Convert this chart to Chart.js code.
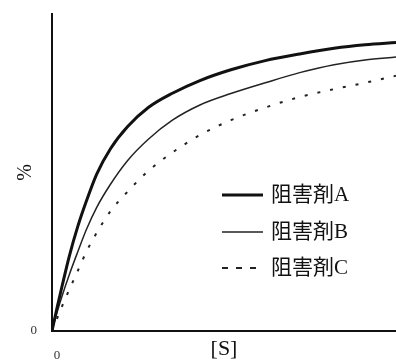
<!DOCTYPE html>
<html>
<head>
<meta charset="utf-8">
<script src="https://cdn.jsdelivr.net/npm/chart.js@4"></script>
<style>
  html, body { margin: 0; padding: 0; background: #fff; overflow: hidden; }
  #box { width: 396px; height: 362px; position: relative; }
  #graficaInhibicion { display: block; }
</style>
</head>
<body>
<div id="box"><canvas id="graficaInhibicion"></canvas></div>
<script>
// [S] sample points (0..100 across the axis)
const sValues = [0, 1.5, 3, 5, 7.5, 10, 13, 17, 22, 28, 35, 43, 52, 62, 72, 82, 91, 100];

// % for each inhibitor
const valoresA = [0, 7.5, 14.5, 23.5, 33, 41, 49.5, 57.5, 64.5, 70.5, 75, 79, 82.4, 85.3, 87.4, 89.2, 90.3, 91];
const valoresB = [0, 6, 11.3, 17.7, 25, 32, 39, 46.3, 53.8, 60.5, 66.5, 71.3, 74.9, 78.3, 81.5, 84, 85.5, 86.4];
const valoresC = [0, 4, 8, 13, 19, 25, 31, 37.8, 44, 50.5, 56.3, 61.8, 66.5, 70.5, 73.8, 76.3, 78.3, 80.5];

const etiquetas = ['阻害剤A', '阻害剤B', '阻害剤C'];
const tituloX = '[S]';
const tituloY = '%';

const serifFont = "'Liberation Serif', 'Noto Sans CJK JP', serif";

function puntos(valores) {
    return sValues.map(function (s, i) { return { x: s, y: valores[i] }; });
}

// legend drawn by hand so it can sit inside the plot on the right
const leyendaManual = {
    id: 'leyendaManual',
    afterDraw: function (chart) {
        const ctx = chart.ctx;
        const filas = [195, 232, 268];
        ctx.save();
        chart.data.datasets.forEach(function (ds, i) {
            const y = filas[i];
            ctx.beginPath();
            ctx.strokeStyle = ds.borderColor;
            ctx.lineWidth = ds.borderWidth;
            ctx.setLineDash(i === 2 ? [6, 8] : []);
            ctx.moveTo(222, y);
            ctx.lineTo(263, y);
            ctx.stroke();
            ctx.setLineDash([]);
            ctx.fillStyle = '#111';
            ctx.font = '21px ' + serifFont;
            ctx.textBaseline = 'middle';
            ctx.textAlign = 'left';
            ctx.fillText(ds.label, 271, y);
        });
        ctx.restore();
    }
};

const canvas = document.getElementById('graficaInhibicion');

new Chart(canvas, {
    type: 'line',
    data: {
        datasets: [{
            label: etiquetas[0],
            data: puntos(valoresA),
            borderColor: '#111',
            borderWidth: 3,
            pointRadius: 0,
            cubicInterpolationMode: 'monotone'
        }, {
            label: etiquetas[1],
            data: puntos(valoresB),
            borderColor: '#222',
            borderWidth: 1.5,
            pointRadius: 0,
            cubicInterpolationMode: 'monotone'
        }, {
            label: etiquetas[2],
            data: puntos(valoresC),
            borderColor: '#222',
            borderWidth: 2,
            borderDash: [3, 10],
            pointRadius: 0,
            cubicInterpolationMode: 'monotone'
        }]
    },
    options: {
        responsive: true,
        maintainAspectRatio: false,
        animation: false,
        layout: {
            padding: { top: 14, left: 0, right: 0, bottom: 0 }
        },
        plugins: {
            legend: { display: false },
            tooltip: { enabled: false }
        },
        scales: {
            x: {
                type: 'linear',
                min: 0,
                max: 100,
                afterFit: function (scale) {
                    scale.height = 31;
                    scale.paddingLeft = 0;
                    scale.paddingRight = 0;
                },
                grid: { display: false, drawTicks: false },
                border: { display: true, width: 2, color: '#111' },
                ticks: {
                    stepSize: 100,
                    padding: 17,
                    labelOffset: 5,
                    color: '#333',
                    font: { family: serifFont, size: 13 },
                    callback: function (v) { return v === 0 ? '0' : ''; }
                },
                title: {
                    display: true,
                    text: tituloX,
                    color: '#111',
                    padding: 0,
                    align: 'center',
                    font: { family: serifFont, size: 22 }
                }
            },
            y: {
                min: 0,
                max: 100,
                afterFit: function (scale) {
                    scale.width = 52;
                    scale.paddingTop = 0;
                    scale.paddingBottom = 0;
                },
                grid: { display: false, drawTicks: false },
                border: { display: true, width: 2, color: '#111' },
                ticks: {
                    stepSize: 100,
                    padding: 15,
                    color: '#333',
                    font: { family: serifFont, size: 13 },
                    callback: function (v) { return v === 0 ? '0' : ''; }
                },
                title: {
                    display: true,
                    text: tituloY,
                    color: '#111',
                    padding: { top: 14, bottom: 0 },
                    font: { family: serifFont, size: 20 }
                }
            }
        }
    },
    plugins: [leyendaManual]
});
</script>
</body>
</html>
